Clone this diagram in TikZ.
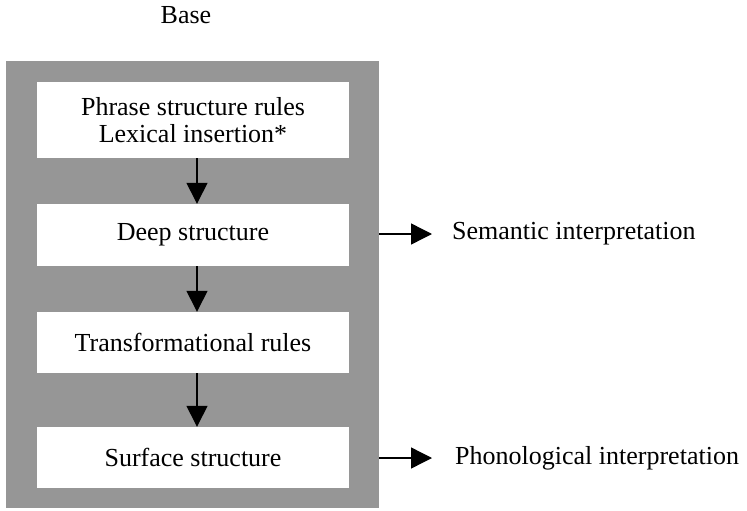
\documentclass[tikz,border=0pt]{standalone}
\usepackage{fontspec}
\setmainfont{Liberation Serif}
\usetikzlibrary{arrows.meta}
\definecolor{basegray}{RGB}{150,150,150}
\begin{document}
\begin{tikzpicture}[x=1pt,y=-1pt,
  every node/.style={font=\fontsize{26}{27}\selectfont, inner sep=0pt},
  stage/.style={fill=white, minimum width=312pt, align=center},
  flow/.style={line width=1.4pt, -{Triangle[length=21pt,width=21pt]}},
  label/.style={anchor=west}]
  \useasboundingbox (0,0) rectangle (747,511);
  % grey frame of the base component
  \node (frame) [fill=basegray, minimum width=373pt, minimum height=447pt] at (192.5,284.5) {};
  \node (base) at (186,15) {Base};
  % stages of the derivation
  \node (psr)  [stage, minimum height=76pt] at (193,120) {Phrase structure rules\\Lexical insertion*};
  \node (deep) [stage, minimum height=62pt] at (193,235) {Deep structure};
  \node (tr)   [stage, minimum height=61pt] at (193,342.5) {Transformational rules};
  \node (surf) [stage, minimum height=61pt] at (193,457.5) {Surface structure};
  \draw[flow] (psr.south -| 197,0) -- (deep.north -| 197,0);
  \draw[flow] (deep.south -| 197,0) -- (tr.north -| 197,0);
  \draw[flow] (tr.south -| 197,0) -- (surf.north -| 197,0);
  % interpretive components
  \node (sem) [label] at (452,234) {Semantic interpretation};
  \node (pho) [label] at (455,458) {Phonological interpretation};
  \coordinate (semstart) at (frame.east |- sem.west);
  \coordinate (phostart) at (frame.east |- pho.west);
  \draw[flow] (semstart) -- ([xshift=-20pt]sem.west);
  \draw[flow] (phostart) -- ([xshift=-23pt]pho.west);
\end{tikzpicture}
\end{document}
